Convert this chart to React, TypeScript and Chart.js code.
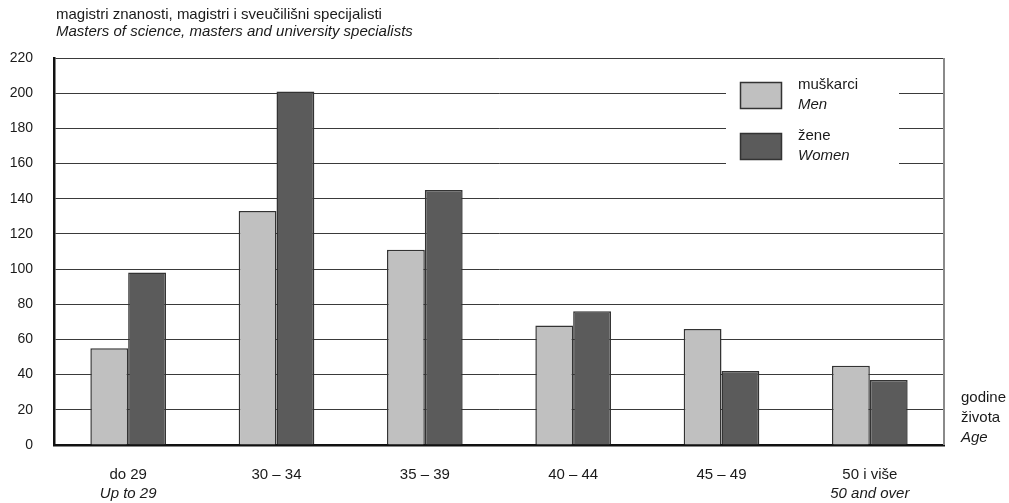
import React, { useEffect, useRef } from "react";
import { Chart, registerables } from "chart.js";
Chart.register(...registerables);

const categories = ["do 29", "30 – 34", "35 – 39", "40 – 44", "45 – 49", "50 i više"];
const categoriesEn = ["Up to 29", "", "", "", "", "50 and over"];
const menValues = [55, 133, 111, 68, 66, 45];
const womenValues = [98, 201, 145, 76, 42, 37];
const yMin = 0;
const yMax = 220;
const yStep = 20;
const titleLines = ["magistri znanosti, magistri i sveučilišni specijalisti", "Masters of science, masters and university specialists"];
const legendLabels = [["muškarci", "Men"], ["žene", "Women"]];
const axisTitleLines = ["godine", "života", "Age"];

const FONT = "'Liberation Sans', Arial, sans-serif";
const MEN_COLOR = "#c0c0c0";
const WOMEN_COLOR = "#5b5b5b";

const decorPlugin = {
  id: "decor",
  afterDraw(chart: any) {
    const ctx = chart.ctx;
    const area = chart.chartArea;
    const xs = chart.scales.x;
    ctx.save();
    // right border
    ctx.strokeStyle = "#8a8a8a";
    ctx.lineWidth = 2;
    ctx.beginPath();
    ctx.moveTo(area.right, area.top);
    ctx.lineTo(area.right, area.bottom);
    ctx.stroke();

    // title
    ctx.fillStyle = "#1a1a1a";
    ctx.textBaseline = "middle";
    ctx.textAlign = "left";
    ctx.font = `15px ${FONT}`;
    ctx.fillText(titleLines[0], 56, 15);
    ctx.font = `italic 15px ${FONT}`;
    ctx.fillText(titleLines[1], 56, 32);

    // x labels
    ctx.textAlign = "center";
    categories.forEach((c, i) => {
      const x = xs.getPixelForValue(i);
      ctx.font = `15px ${FONT}`;
      ctx.fillText(c, x, 475);
      if (categoriesEn[i]) {
        ctx.font = `italic 15px ${FONT}`;
        ctx.fillText(categoriesEn[i], x, 494);
      }
    });

    // axis title on right
    ctx.textAlign = "left";
    ctx.font = `15px ${FONT}`;
    ctx.fillText(axisTitleLines[0], 961, 398);
    ctx.fillText(axisTitleLines[1], 961, 418);
    ctx.font = `italic 15px ${FONT}`;
    ctx.fillText(axisTitleLines[2], 961, 438);

    // legend
    ctx.fillStyle = "#ffffff";
    ctx.fillRect(726, 66, 173, 110);
    const swatches = [
      { y: 82, color: MEN_COLOR },
      { y: 133, color: WOMEN_COLOR },
    ];
    swatches.forEach((s, i) => {
      ctx.fillStyle = s.color;
      ctx.fillRect(740.5, s.y + 0.5, 41, 26);
      ctx.strokeStyle = "#333";
      ctx.lineWidth = 1.5;
      ctx.strokeRect(740.5, s.y + 0.5, 41, 26);
      ctx.fillStyle = "#1a1a1a";
      ctx.font = `15px ${FONT}`;
      ctx.fillText(legendLabels[i][0], 798, s.y + 3);
      ctx.font = `italic 15px ${FONT}`;
      ctx.fillText(legendLabels[i][1], 798, s.y + 23);
    });
    ctx.restore();
  },
};

export default function App() {
  const ref = useRef<HTMLCanvasElement>(null);
  useEffect(() => {
    if (!ref.current) return;
    const chart = new Chart(ref.current, {
      type: "bar",
      data: {
        labels: categories,
        datasets: [
          {
            label: "muškarci / Men",
            data: menValues,
            backgroundColor: MEN_COLOR,
            borderColor: "#333",
            borderWidth: 1.5,
            barPercentage: 1,
            categoryPercentage: 0.51,
          },
          {
            label: "žene / Women",
            data: womenValues,
            backgroundColor: WOMEN_COLOR,
            borderColor: "#333",
            borderWidth: 1.5,
            barPercentage: 1,
            categoryPercentage: 0.51,
          },
        ],
      },
      options: {
        responsive: false,
        animation: false,
        layout: { padding: { left: 0, top: 58, right: 65, bottom: 0 } },
        plugins: {
          legend: { display: false },
          tooltip: { enabled: false },
          title: { display: false },
        },
        scales: {
          x: {
            grid: { display: false, drawTicks: false },
            border: { display: true, color: "#111", width: 2.5 },
            ticks: { display: false },
            afterFit: (s: any) => {
              s.height = 58;
            },
          },
          y: {
            min: yMin,
            max: yMax,
            grid: { color: "#3a3a3a", lineWidth: 1, drawTicks: false },
            border: { display: true, color: "#111", width: 2.5 },
            ticks: {
              stepSize: yStep,
              padding: 21,
              color: "#1a1a1a",
              font: { family: FONT, size: 14 },
            },
            afterFit: (s: any) => {
              s.width = 54;
            },
          },
        },
      },
      plugins: [decorPlugin],
    });
    return () => chart.destroy();
  }, []);
  return (
    <div style={{ position: "fixed", left: 0, top: 0, width: 1009, height: 503, background: "#fff" }}>
      <canvas ref={ref} width={1009} height={503} style={{ width: 1009, height: 503 }} />
    </div>
  );
}
